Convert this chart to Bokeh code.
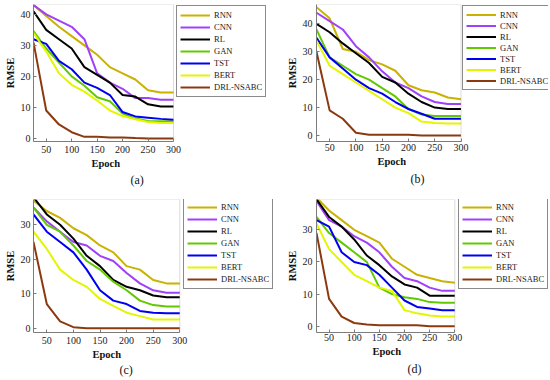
from bokeh.plotting import figure
from bokeh.models import Legend, LegendItem, Title, FixedTicker, Range1d, BoxAnnotation
from bokeh.layouts import gridplot
from bokeh.embed import file_html
from bokeh.resources import INLINE

epochs = [25, 50, 75, 100, 125, 150, 175, 200, 225, 250, 275, 300]
models = ["RNN", "CNN", "RL", "GAN", "TST", "BERT", "DRL-NSABC"]
x_ticks = [50, 100, 150, 200, 250, 300]
y_ticks_ab = [0, 10, 20, 30, 40]
y_ticks_cd = [0, 10, 20, 30]
captions = ["(a)", "(b)", "(c)", "(d)"]

# panel (a)
rnn_a = [43, 39.5, 36, 33, 30, 27, 23, 21, 19, 15.5, 14.8, 14.8]
cnn_a = [43, 40, 38, 36, 32, 21, 18, 16, 13, 13, 12.5, 12.5]
rl_a = [41, 35, 32, 29, 23, 20.5, 18, 14, 13.5, 11, 10.3, 10.3]
gan_a = [34.6, 29, 24.5, 20, 17, 13.3, 12, 8, 6.4, 5.6, 5.5, 5.5]
tst_a = [32, 30.5, 25, 22.3, 18, 16.3, 14, 8.5, 7.1, 6.7, 6.3, 6]
bert_a = [34, 28, 21, 17.3, 15.1, 12.2, 9, 7.2, 6.2, 5.3, 5, 5]
drl_a = [31, 9, 4.5, 2, 0.5, 0.5, 0.3, 0.3, 0.1, 0, 0, 0]

# panel (b)
rnn_b = [46, 42, 31, 30, 27, 25.5, 23.2, 18, 16.2, 15.4, 13.6, 13]
cnn_b = [44, 41, 38, 32, 28, 23, 19, 17, 14, 12, 11.3, 11.3]
rl_b = [40, 37, 33, 29.5, 26, 21, 19, 15, 12, 10, 9.5, 9.5]
gan_b = [38, 28, 25, 22, 20, 17, 14, 9.5, 7.5, 7, 7, 7]
tst_b = [35, 28, 24, 20, 17, 15, 12, 9.5, 7.8, 6, 6, 6]
bert_b = [34, 25, 22, 19, 16, 13, 10, 8, 5, 4.5, 4.3, 4.3]
drl_b = [30, 9, 6, 1, 0.3, 0.3, 0.3, 0.3, 0, 0, 0, 0]

# panel (c)
rnn_c = [37, 34, 32, 29, 27, 24, 22, 18, 17, 14, 13, 13]
cnn_c = [35, 31, 28, 25, 24, 21, 19.5, 16, 13, 11, 10.3, 10.3]
rl_c = [38, 33, 30, 26, 21, 18, 14, 12, 11, 9.5, 9, 9]
gan_c = [35, 30, 28, 24, 19.5, 17, 13.5, 11, 8, 6.7, 6.3, 6.3]
tst_c = [33, 28, 25, 22, 17, 11, 8, 7, 5, 4.5, 4.3, 4.3]
bert_c = [28, 23, 17, 14, 12, 8.5, 6.5, 4.5, 3.5, 2.5, 2.5, 2.5]
drl_c = [25, 7, 2, 0.3, 0, 0, 0, 0, 0, 0, 0, 0]

# panel (d)
rnn_d = [40, 36, 33, 30, 28, 26, 21, 18.5, 16, 15, 14, 13.5]
cnn_d = [39, 33, 31, 28, 26, 23, 18.5, 15, 14, 12, 11, 11]
rl_d = [39.5, 34, 31, 27, 22, 19, 15.5, 13, 12, 9.5, 9.5, 9.5]
gan_d = [34, 29, 26, 23, 20, 12, 10, 9, 8.5, 7.5, 7.3, 7.3]
tst_d = [33, 31, 23, 20, 19, 16, 12, 8, 6, 5.5, 5, 5]
bert_d = [32, 24, 20, 16, 14, 12, 11, 5, 4, 3.3, 3, 3]
drl_d = [29, 8.5, 3, 1, 0.5, 0.3, 0.3, 0.3, 0.3, 0, 0, 0]

colors = ["#C9B200", "#A040F8", "#000000", "#62C800", "#0000F0", "#E4F500", "#8B3A10"]
SERIF = "Liberation Serif"
W, H = 275, 190


def make_panel(series, caption, yticks, yr, cfg):
    fl, x300, mbr, mbt, mbb = cfg["left"], cfg["x300"], 2, cfg["top"], cfg["bottom"]
    fr = W - mbr
    x_end = 25 + (fr - fl) * 275.0 / (x300 - fl)
    p = figure(width=W, height=H, output_backend="svg", toolbar_location=None,
               x_range=Range1d(25, x_end), y_range=Range1d(*yr),
               min_border_left=fl, min_border_right=mbr,
               min_border_top=mbt, min_border_bottom=mbb)
    p.grid.visible = False
    p.outline_line_color = None
    p.xaxis.bounds = (25, 300)
    for ax, ticks in ((p.xaxis, x_ticks), (p.yaxis, yticks)):
        ax.ticker = FixedTicker(ticks=ticks)
        ax.major_label_text_font = SERIF
        ax.major_label_text_font_size = "10px"
        ax.major_label_text_color = "#222222"
        ax.axis_line_color = "#7a7a7a"
        ax.major_tick_line_color = "#7a7a7a"
        ax.major_tick_in = 3
        ax.major_tick_out = 0
        ax.minor_tick_line_color = None
    p.xaxis.major_label_standoff = cfg["xstand"]
    p.yaxis.major_label_standoff = cfg["ystand"]
    p.yaxis.axis_label = "RMSE"
    p.yaxis.axis_label_text_font = SERIF
    p.yaxis.axis_label_text_font_style = "bold"
    p.yaxis.axis_label_text_font_size = "10.5px"
    p.yaxis.axis_label_text_color = "#111111"
    p.yaxis.axis_label_standoff = 2
    p.add_layout(BoxAnnotation(left=25, right=300, fill_color=None, line_color="#8c8c8c",
                               line_width=1))
    items = []
    for name, ys, c in zip(models, series, colors):
        r = p.line(epochs, ys, line_color=c, line_width=2)
        items.append(LegendItem(label=name, renderers=[r]))
    lh = cfg["row"]
    legend = Legend(items=items, location=(cfg["legx"], cfg["legy"]), margin=0, padding=3,
                    spacing=0, glyph_width=30, glyph_height=lh, label_height=lh,
                    label_standoff=4, label_text_font=SERIF, label_text_font_size="8.5px",
                    label_text_color="#222222", label_text_baseline="middle",
                    border_line_color="#8a8a8a", border_line_width=1, border_line_alpha=1,
                    background_fill_color="white", background_fill_alpha=1)
    p.add_layout(legend)
    p.add_layout(Title(text="Epoch", align="left", offset=cfg["epx"], standoff=0,
                       text_font=SERIF, text_font_size="10.5px", text_font_style="bold",
                       text_color="#111111"), "below")
    p.add_layout(Title(text=caption, align="left", offset=cfg["capx"], standoff=cfg["caps"],
                       text_font=SERIF, text_font_size="12px", text_font_style="normal",
                       text_color="#111111"), "below")
    return p


cfg_a = dict(left=33, x300=173, top=4, bottom=49, xstand=4, ystand=3,
             row=12, legx=143, legy=44, epx=58, capx=97, caps=4)
cfg_b = dict(left=41, x300=185.5, top=4, bottom=49, xstand=2, ystand=4,
             row=11, legx=146, legy=51, epx=61, capx=94, caps=6)
cfg_c = dict(left=33, x300=179.3, top=9, bottom=48, xstand=4, ystand=3,
             row=12, legx=150, legy=43, epx=59, capx=86, caps=3)
cfg_d = dict(left=41, x300=179.3, top=9, bottom=48, xstand=1, ystand=4,
             row=12, legx=142, legy=43, epx=56, capx=91, caps=6)

pa = make_panel([rnn_a, cnn_a, rl_a, gan_a, tst_a, bert_a, drl_a], captions[0], y_ticks_ab,
                (-1.0, 43.2), cfg_a)
pb = make_panel([rnn_b, cnn_b, rl_b, gan_b, tst_b, bert_b, drl_b], captions[1], y_ticks_ab,
                (-2.15, 46.95), cfg_b)
pc = make_panel([rnn_c, cnn_c, rl_c, gan_c, tst_c, bert_c, drl_c], captions[2], y_ticks_cd,
                (-1.25, 37.34), cfg_c)
pd = make_panel([rnn_d, cnn_d, rl_d, gan_d, tst_d, bert_d, drl_d], captions[3], y_ticks_cd,
                (-1.96, 39.43), cfg_d)

grid = gridplot([[pa, pb], [pc, pd]], toolbar_location=None)
open("out.html", "w").write(file_html(grid, INLINE))
